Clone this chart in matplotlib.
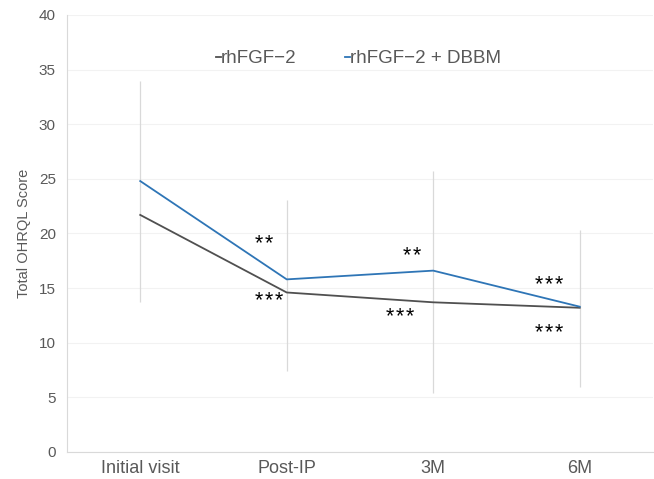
import matplotlib.pyplot as plt
import numpy as np

plt.rcParams['font.family'] = ['Liberation Sans', 'DejaVu Sans']

visits = ["Initial visit", "Post-IP", "3M", "6M"]
rh_only = [21.7, 14.6, 13.7, 13.2]
rh_dbbm = [24.8, 15.8, 16.6, 13.3]
# vertical range bars drawn at each visit
bar_low = [13.7, 7.45, 5.4, 5.95]
bar_high = [34.0, 23.1, 25.7, 20.3]
# significance marks (centre positions), stars separated by hair spaces
sig_x = [0.846, 0.88, 1.857, 1.775, 2.79, 2.79]
sig_y = [19.5, 14.3, 18.4, 12.85, 15.8, 11.4]
sig_txt = ["*\u200a*", "*\u200a*\u200a*", "*\u200a*", "*\u200a*\u200a*", "*\u200a*\u200a*", "*\u200a*\u200a*"]

grey = "#595959"
blue = "#2e75b6"

fig = plt.figure(figsize=(6.54, 4.79), dpi=100)
ax = fig.add_axes([0.1024, 0.0564, 0.896, 0.9123])

x = np.arange(len(visits))
ax.vlines(x, bar_low, bar_high, color="#d9d9d9", lw=0.9, zorder=2)
ax.plot(x, rh_only, color="#505050", lw=1.3, label="rhFGF\u22122", zorder=3)
ax.plot(x, rh_dbbm, color=blue, lw=1.3, label="rhFGF\u22122 + DBBM", zorder=3)

# the asterisk sits high in the glyph box, so drop the baseline below the centre
for xi, yi, t in zip(sig_x, sig_y, sig_txt):
    ax.text(xi, yi - 1.05, t, fontsize=15.5, ha="center", va="baseline",
            color="black")

ax.set_xlim(-0.5, 3.5)
ax.set_ylim(0, 40)
ax.set_yticks(np.arange(0, 41, 5))
ax.set_xticks(x)
ax.set_xticklabels(visits, fontsize=13, color=grey)
ax.tick_params(axis="y", labelsize=11, labelcolor=grey, length=0, pad=8)
ax.tick_params(axis="x", length=0, pad=6)
ax.grid(axis="y", color="#f2f2f2", lw=0.8)
ax.set_axisbelow(True)
for s in ["top", "right"]:
    ax.spines[s].set_visible(False)
for s in ["left", "bottom"]:
    ax.spines[s].set_color("#d9d9d9")
ax.set_ylabel("Total OHRQL Score", fontsize=10.5, color=grey, labelpad=6)

ax.legend(loc="center", bbox_to_anchor=(0.498, 0.9), ncol=2, frameon=False,
          handlelength=0.25, handletextpad=0.0, columnspacing=2.6,
          fontsize=13.5, labelcolor=grey)

fig.savefig("out.png", dpi=100)
